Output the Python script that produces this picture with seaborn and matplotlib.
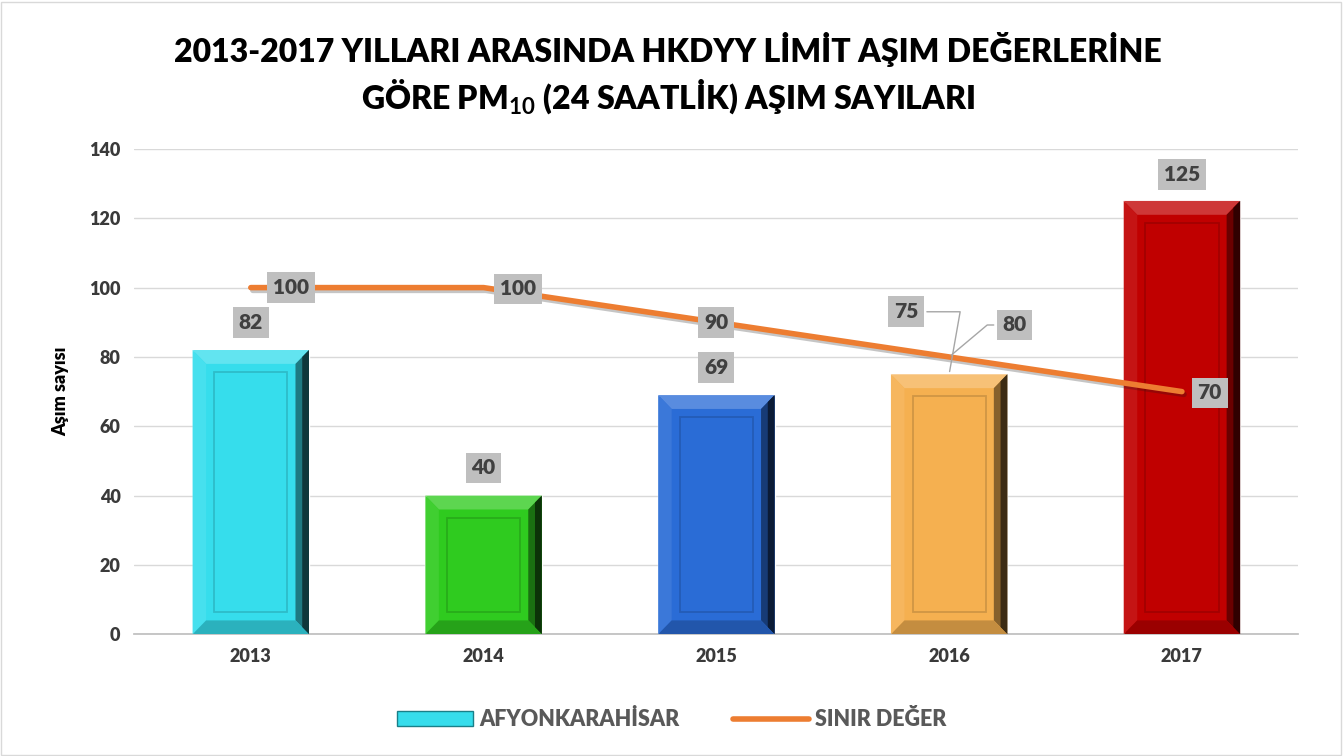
import numpy as np
import pandas as pd
import seaborn as sns
import matplotlib.pyplot as plt
from matplotlib.patches import Polygon, Rectangle, Patch
from matplotlib.lines import Line2D
import matplotlib.patheffects as pe
from matplotlib.colors import to_rgb

# veriler
years = ["2013", "2014", "2015", "2016", "2017"]
asim = [82, 40, 69, 75, 125]
sinir = [100, 100, 90, 80, 70]
bar_colors = ["#36DDEC", "#2FCB1F", "#2A6CD6", "#F5B050", "#C00000"]

sns.set_theme(style="white")
plt.rcParams["font.family"] = ["Lato", "DejaVu Sans"]
plt.rcParams["mathtext.fontset"] = "custom"
plt.rcParams["mathtext.rm"] = "Lato:bold"
plt.rcParams["mathtext.bf"] = "Lato:bold"

W = "heavy"

df = pd.DataFrame({"yil": years, "asim": asim})

fig = plt.figure(figsize=(13.44, 7.56), dpi=100)
ax = fig.add_axes([0.100, 0.161, 0.866, 0.642])

sns.barplot(data=df, x="yil", y="asim", hue="yil", palette=bar_colors,
            legend=False, width=0.5, ax=ax, saturation=1)
bars = list(ax.patches)


def shade(c, f):
    c = np.array(to_rgb(c))
    if f >= 0:
        return tuple(c + (1 - c) * f)
    return tuple(c * (1 + f))


# kabartma (bevel) efekti
dx, dy = 0.058, 4.0
for p, c in zip(bars, bar_colors):
    x0, w, h = p.get_x(), p.get_width(), p.get_height()
    x1 = x0 + w
    ax.add_patch(Polygon([(x0, h), (x1, h), (x1 - dx, h - dy), (x0 + dx, h - dy)],
                         color=shade(c, 0.22), lw=0, zorder=3))
    ax.add_patch(Polygon([(x0, 0), (x0, h), (x0 + dx, h - dy), (x0 + dx, dy)],
                         color=shade(c, 0.08), lw=0, zorder=3))
    # rechte Seite: zwei Stufen, dunkler nach außen
    ax.add_patch(Polygon([(x1, 0), (x1, h), (x1 - dx, h - dy), (x1 - dx, dy)],
                         color=shade(c, -0.45), lw=0, zorder=3))
    ax.add_patch(Polygon([(x1, 0), (x1, h), (x1 - dx / 2, h - dy / 2), (x1 - dx / 2, dy / 2)],
                         color=shade(c, -0.75), lw=0, zorder=3))
    ax.add_patch(Polygon([(x0, 0), (x1, 0), (x1 - dx, dy), (x0 + dx, dy)],
                         color=shade(c, -0.2), lw=0, zorder=3))
    ax.add_patch(Rectangle((x0 + 1.6 * dx, 1.6 * dy), w - 3.2 * dx, h - 3.2 * dy,
                           fill=False, ec=shade(c, -0.15), lw=1.3, zorder=3))

# sınır değer çizgisi
xs = [p.get_x() + p.get_width() / 2 for p in bars]
sns.lineplot(x=xs, y=sinir, color="#ED7D31", lw=4, ax=ax, zorder=4,
             solid_capstyle="round",
             path_effects=[pe.SimpleLineShadow(offset=(1.5, -2), alpha=0.25),
                           pe.Normal()])

box = dict(boxstyle="square,pad=0.28", fc="#BFBFBF", ec="none")
lbl = dict(ha="center", va="center", fontsize=15, fontweight=W,
           color="#404040", bbox=box, zorder=6, textcoords="offset points")

bar_off = [(0, 20), (0, 20), (0, 20), (-31, 45), (0, 19)]
for x, v, off in zip(xs, asim, bar_off):
    arr = None
    if off[0] != 0:
        arr = dict(arrowstyle="-", color="#A6A6A6", lw=1,
                   connectionstyle="angle,angleA=0,angleB=80,rad=0")
    ax.annotate(str(v), (x, v), xytext=off, arrowprops=arr, **lbl)

line_off = [(29, 0), (25, -1), (0, 0), (47, 23), (20, -1)]
for x, v, off in zip(xs, sinir, line_off):
    arr = None
    if off == (47, 23):
        arr = dict(arrowstyle="-", color="#A6A6A6", lw=1,
                   connectionstyle="angle,angleA=0,angleB=40,rad=0")
    ax.annotate(str(v), (x, v), xytext=off, arrowprops=arr, **lbl)

ax.set_ylim(0, 140)
ax.set_xlim(-0.5, 4.5)
ax.set_yticks(range(0, 141, 20))
ax.yaxis.grid(True, color="#D9D9D9", lw=1)
ax.set_axisbelow(True)
for s in ["top", "right", "left"]:
    ax.spines[s].set_visible(False)
ax.spines["bottom"].set_color("#BFBFBF")
ax.tick_params(axis="both", length=0, labelsize=13, labelcolor="#3A3A3A", pad=10)
for t in ax.get_xticklabels() + ax.get_yticklabels():
    t.set_fontweight(W)
ax.set_xlabel("")
ax.set_ylabel("Aşım sayısı", fontsize=13, fontweight=W, color="black", labelpad=14)

fig.text(0.497, 0.935, "2013-2017 YILLARI ARASINDA HKDYY LİMİT AŞIM DEĞERLERİNE",
         ha="center", va="center", fontsize=23, fontweight=W, color="black")
fig.text(0.497, 0.872, r"GÖRE PM$_{10}$ (24 SAATLİK) AŞIM SAYILARI",
         ha="center", va="center", fontsize=23, fontweight=W, color="black")

handles = [Patch(fc=bar_colors[0], ec="#1A7F88", lw=1),
           Line2D([0], [0], color="#ED7D31", lw=4, solid_capstyle="round")]
leg = fig.legend(handles, ["AFYONKARAHİSAR", "SINIR DEĞER"], loc="center",
                 bbox_to_anchor=(0.5, 0.048), ncol=2, frameon=False,
                 handlelength=3.5, handletextpad=0.3, columnspacing=2.5,
                 prop=dict(size=15.5, weight=W))
for t in leg.get_texts():
    t.set_color("#595959")

fig.patches.append(Rectangle((0.001, 0.001), 0.997, 0.997, transform=fig.transFigure,
                             fill=False, ec="#D9D9D9", lw=1))

fig.savefig("out.png", dpi=100)
